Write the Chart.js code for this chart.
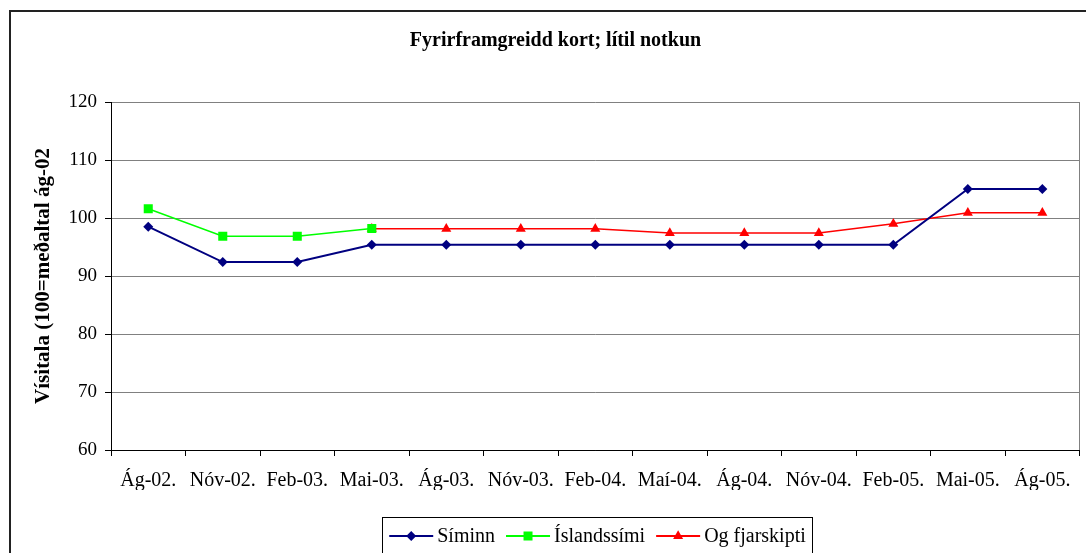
<!DOCTYPE html>
<html><head><meta charset="utf-8">
<script src="https://cdn.jsdelivr.net/npm/chart.js@4"></script>
<style>html,body{margin:0;padding:0;background:#fff;}#wrap{position:relative;width:1086px;height:553px;}</style>
</head><body><div id="wrap"><canvas id="c" width="1086" height="553"></canvas></div>
<script>
const categories = ['Ág-02.','Nóv-02.','Feb-03.','Mai-03.','Ág-03.','Nóv-03.','Feb-04.','Maí-04.','Ág-04.','Nóv-04.','Feb-05.','Mai-05.','Ág-05.'];
const siminn = [98.5, 92.4, 92.4, 95.4, 95.4, 95.4, 95.4, 95.4, 95.4, 95.4, 95.4, 105.0, 105.0];
const islandssimi = [101.6, 96.85, 96.85, 98.2, null, null, null, null, null, null, null, null, null];
const ogFjarskipti = [null, null, null, 98.15, 98.15, 98.15, 98.15, 97.4, 97.4, 97.4, 99.0, 100.9, 100.9];
const seriesNames = ['Síminn', 'Íslandssími', 'Og fjarskipti'];
const yMin = 60, yMax = 120, yStep = 10;
const chartTitle = 'Fyrirframgreidd kort; lítil notkun';
const yTitle = 'Vísitala (100=meðaltal ág-02';

const SERIF = "'Liberation Serif', 'Times New Roman', serif";

function drawMarker(ctx, style, x, y, color) {
  ctx.save();
  ctx.fillStyle = color;
  ctx.beginPath();
  if (style === 'rectRot') {
    const r = 5;
    ctx.moveTo(x - r, y); ctx.lineTo(x, y - r); ctx.lineTo(x + r, y); ctx.lineTo(x, y + r);
  } else if (style === 'rect') {
    const h = 4.5;
    ctx.rect(x - h, y - h, 2 * h, 2 * h);
  } else {
    const r = 5.8;
    ctx.moveTo(x, y - r);
    ctx.lineTo(x + r * Math.cos(Math.PI / 6), y + r / 2);
    ctx.lineTo(x - r * Math.cos(Math.PI / 6), y + r / 2);
  }
  ctx.closePath();
  ctx.fill();
  ctx.restore();
}

const decor = {
  id: 'decor',
  beforeDraw(chart) {
    const ctx = chart.ctx;
    ctx.save();
    ctx.fillStyle = '#fff';
    ctx.fillRect(0, 0, chart.width, chart.height);
    ctx.strokeStyle = '#222';
    ctx.lineWidth = 2;
    ctx.strokeRect(10, 11, 1100, 600);
    ctx.fillStyle = '#000';
    ctx.font = 'bold 20px ' + SERIF;
    ctx.textAlign = 'center';
    ctx.textBaseline = 'middle';
    ctx.fillText(chartTitle, 555.5, 41);
    ctx.restore();
  },
  beforeDatasetsDraw(chart) {
    const ctx = chart.ctx, a = chart.chartArea;
    ctx.save();
    ctx.strokeStyle = '#808080';
    ctx.lineWidth = 1;
    ctx.beginPath();
    ctx.moveTo(Math.round(a.right) - 0.5, a.top);
    ctx.lineTo(Math.round(a.right) - 0.5, a.bottom);
    ctx.stroke();
    ctx.restore();
  },
  afterDraw(chart) {
    const ctx = chart.ctx;
    ctx.save();
    ctx.font = '20px ' + SERIF;
    const lineLen = 44, gapLT = 4, gapItems = 11;
    const items = chart.data.datasets.map(ds => ({label: ds.label, color: ds.borderColor, style: ds.pointStyle}));
    let total = 0;
    items.forEach((it, i) => { it.w = ctx.measureText(it.label).width; total += lineLen + gapLT + it.w + (i ? gapItems : 0); });
    const bx1 = 382.5, bx2 = 812.5, by = 517.5;
    ctx.strokeStyle = '#000';
    ctx.lineWidth = 1;
    ctx.strokeRect(bx1, by, bx2 - bx1, 60);
    let x = (bx1 + bx2) / 2 - total / 2;
    const y = 536;
    ctx.textBaseline = 'middle';
    ctx.textAlign = 'left';
    items.forEach(it => {
      ctx.strokeStyle = it.color;
      ctx.lineWidth = 2;
      ctx.beginPath(); ctx.moveTo(x, y); ctx.lineTo(x + lineLen, y); ctx.stroke();
      drawMarker(ctx, it.style, x + lineLen / 2, y, it.color);
      ctx.fillStyle = '#000';
      ctx.fillText(it.label, x + lineLen + gapLT, y + 1);
      x += lineLen + gapLT + it.w + gapItems;
    });
    ctx.restore();
  }
};

const pointStyles = ['rectRot', 'rect', 'triangle'];
const colors = ['#000080', '#00FF00', '#FF0000'];
const radii = [5, 6.4, 5.8];
const widths = [2, 1.5, 1.5];
const values = [siminn, islandssimi, ogFjarskipti];

new Chart(document.getElementById('c'), {
  type: 'line',
  data: {
    labels: categories,
    datasets: values.map((v, i) => ({
      label: seriesNames[i],
      data: v,
      borderColor: colors[i],
      backgroundColor: colors[i],
      pointBackgroundColor: colors[i],
      pointBorderColor: colors[i],
      pointBorderWidth: 0,
      pointStyle: pointStyles[i],
      pointRadius: radii[i],
      borderWidth: widths[i],
      tension: 0,
      spanGaps: false,
      fill: false
    }))
  },
  options: {
    responsive: false,
    animation: false,
    layout: {padding: {left: 0, right: 1, top: 102, bottom: 63}},
    plugins: {legend: {display: false}, title: {display: false}, tooltip: {enabled: false}},
    scales: {
      x: {
        offset: true,
        afterFit(s) { s.height = 40; },
        grid: {offset: true, drawOnChartArea: false, tickLength: 6, tickColor: '#000'},
        border: {color: '#000', width: 1},
        ticks: {font: {family: SERIF, size: 20}, color: '#000', padding: 13, maxRotation: 0, autoSkip: false}
      },
      y: {
        min: yMin, max: yMax,
        afterFit(s) { s.width = 111; },
        grid: {color: (c) => (c.tick && c.tick.value === yMin ? '#000' : '#808080'), tickLength: 6, tickColor: '#000'},
        border: {color: '#000', width: 1},
        ticks: {stepSize: yStep, font: {family: SERIF, size: 19}, color: '#000', padding: 8},
        title: {display: true, text: yTitle, font: {family: SERIF, size: 21, weight: 'bold'}, color: '#000', padding: {top: 30.5, bottom: 0}}
      }
    }
  },
  plugins: [decor]
});
</script></body></html>
